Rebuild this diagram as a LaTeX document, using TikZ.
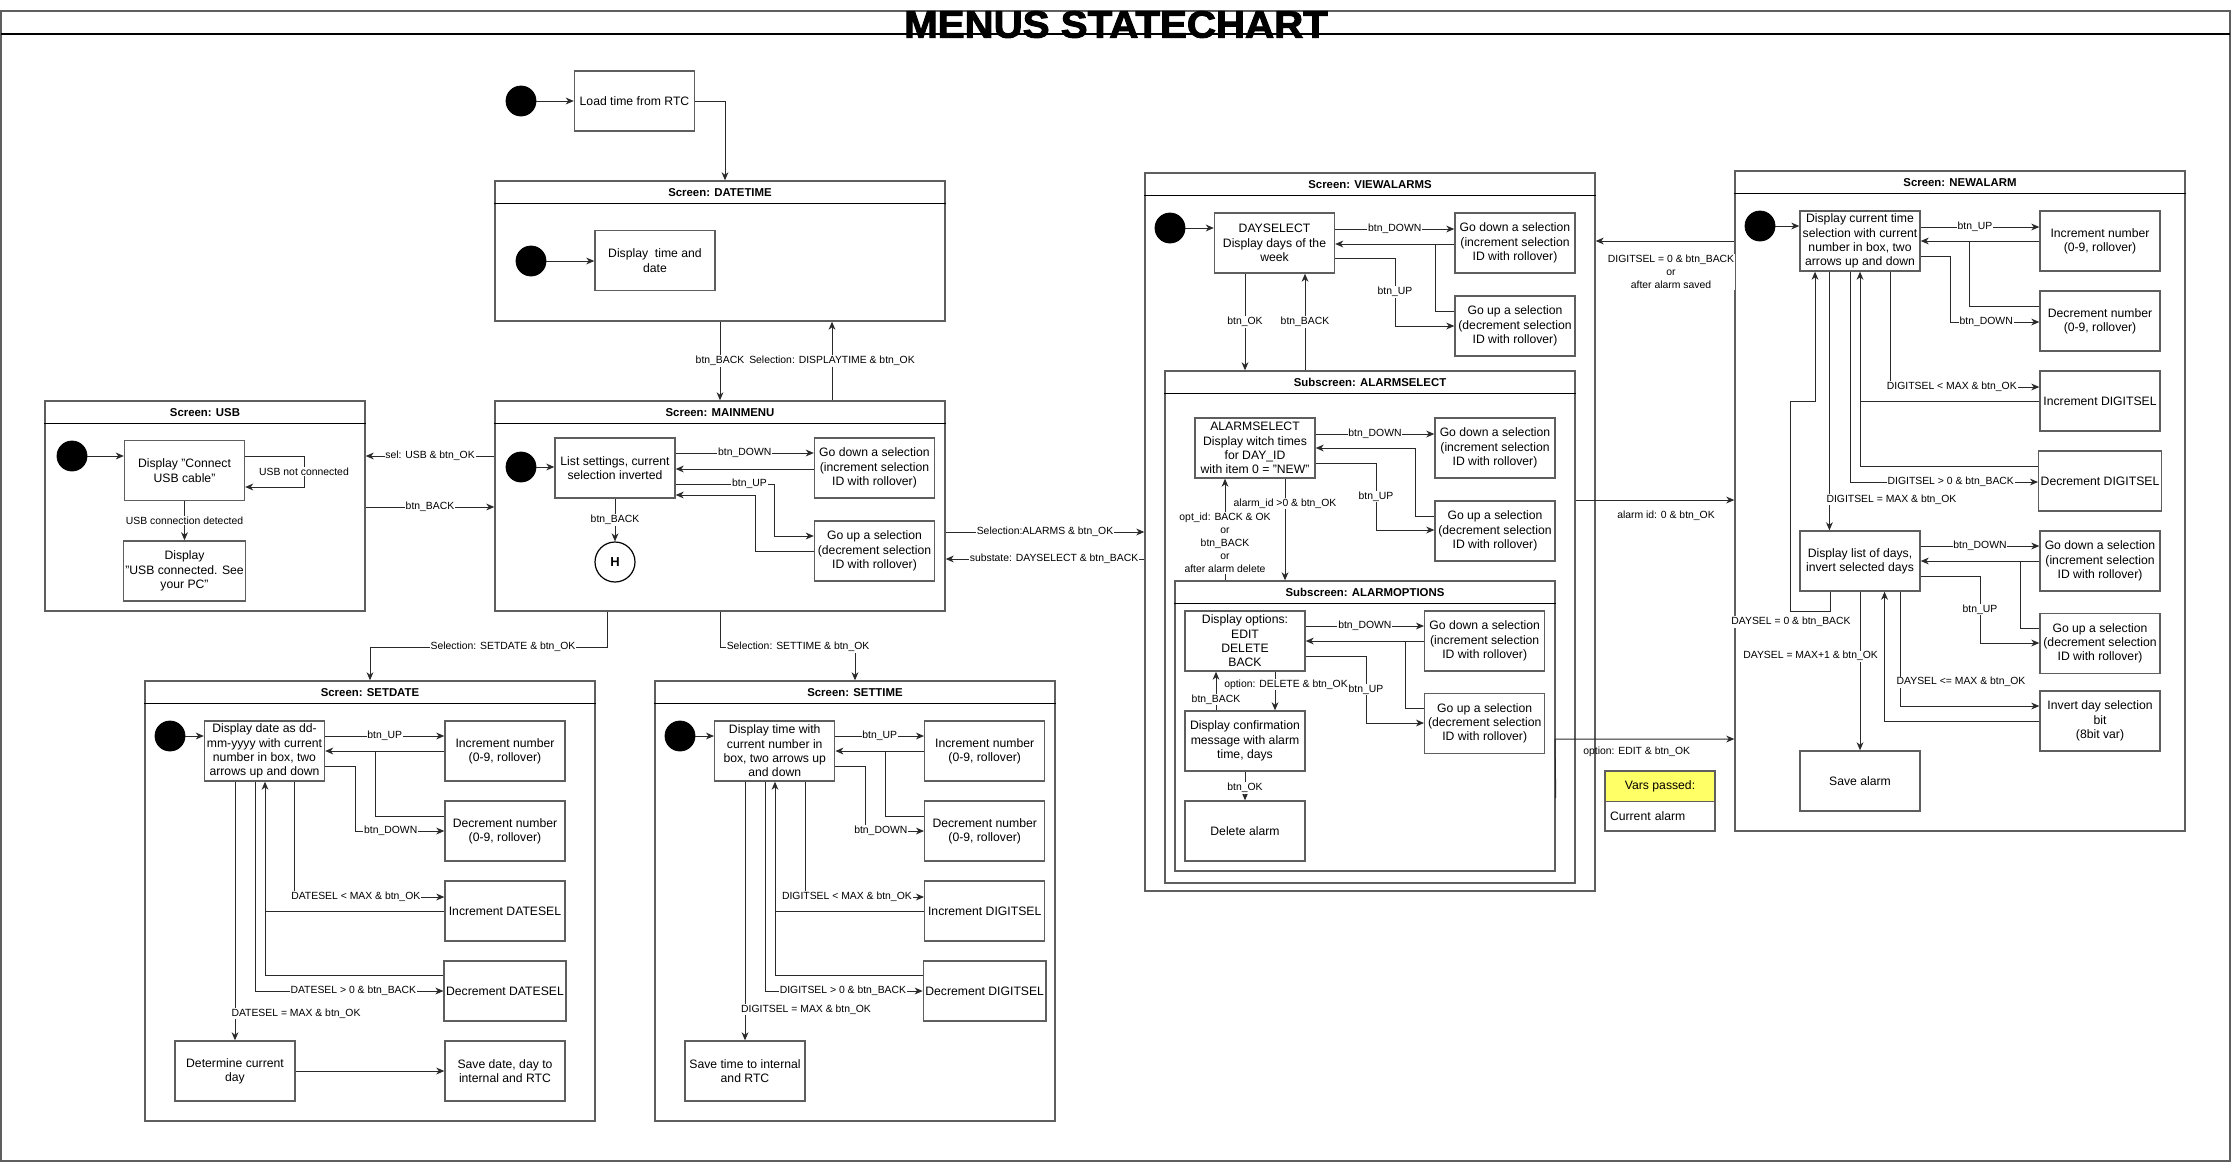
\documentclass[tikz,border=0pt]{standalone}
\usepackage{fontspec}
\setmainfont{Liberation Sans}
\newfontfamily\menutitlefont[FakeBold=2.5]{Liberation Sans Bold}
\usetikzlibrary{arrows.meta}
\usetikzlibrary{fit}
\definecolor{boxgray}{HTML}{5E5E5E}
\definecolor{linegray}{HTML}{2A2A2A}
\definecolor{varsyellow}{HTML}{FFFF66}

\begin{document}
\begin{tikzpicture}[x=0.5pt,y=-0.5pt,
  box/.style={draw=boxgray, line width=0.7pt, minimum width=60pt, minimum height=30pt, align=center, inner sep=1pt, font=\fontsize{6.1}{7.15}\selectfont},
  frame/.style={draw=boxgray, line width=0.7pt, inner sep=0pt},
  hdrline/.style={draw=black, line width=0.5pt},
  hdr/.style={font=\fontsize{5.7}{6.8}\selectfont\bfseries},
  lbl/.style={fill=white, inner sep=0.4pt, align=center, font=\fontsize{5.2}{6.6}\selectfont},
  init/.style={circle, fill=black, draw=black, minimum size=15pt, inner sep=0pt},
  arr/.style={draw=linegray, line width=0.5pt, -{Stealth[length=4pt,width=3.4pt,inset=1.2pt]}},
  conn/.style={draw=linegray, line width=0.5pt}]
  \useasboundingbox (0,0) rectangle (2231,1162);
  \draw[boxgray, line width=0.9pt] (1,11) rectangle (2230,1161);
  \draw[black, line width=0.6pt] (1,34) -- (2230,34);
  \node[font=\fontsize{19}{20}\selectfont\menutitlefont, inner sep=0pt, xscale=1.06] (title) at (1116,24.5) {MENUS STATECHART};

  % start
  \node[init] (init0) at (521,101) {};
  \node[box] (load) at (634.5,101) {Load time from RTC};
  \draw[arr] (init0) -- (load);

  % DATETIME
  \node[frame, fit={(495,181) (945,321)}] (datetime) {};
  \draw[hdrline] ([yshift=-11.5pt]datetime.north west) -- ([yshift=-11.5pt]datetime.north east);
  \node[hdr] (datetimet) at ([yshift=-6pt]datetime.north) {Screen: DATETIME};
  \draw[arr] (load.east) -| (datetime.north -| 725,0);
  \node[init] (init1) at (531,261) {};
  \node[box] (dtshow) at (655,260.5) {Display\ \ time and\\date};
  \draw[arr] (init1) -- (dtshow.west |- init1);

  % MAINMENU
  \node[frame, fit={(495,401) (945,611)}] (mainmenu) {};
  \draw[hdrline] ([yshift=-11.5pt]mainmenu.north west) -- ([yshift=-11.5pt]mainmenu.north east);
  \node[hdr] (mainmenut) at ([yshift=-6pt]mainmenu.north) {Screen: MAINMENU};
  \draw[arr] (datetime.south) -- node[lbl] (lmback) {btn\_BACK} (mainmenu.north);
  \draw[arr] (mainmenu.north -| 832,0) -- node[lbl] (lmdisp) {Selection: DISPLAYTIME \& btn\_OK} (datetime.south -| 832,0);
  \node[init] (init2) at (521,467) {};
  \node[box] (list) at (615,468) {List settings, current\\selection inverted};
  \node[box] (mdown) at (874.5,468) {Go down a selection\\(increment selection\\ID with rollover)};
  \node[box] (mup) at (874.5,551) {Go up a selection\\(decrement selection\\ID with rollover)};
  \node[circle, draw=black, line width=0.6pt, minimum size=20pt, inner sep=0pt, font=\fontsize{6.5}{7}\selectfont\bfseries] (hist) at (615,562) {H};
  \draw[arr] (init2) -- (list.west |- init2);
  \draw[arr] (list.east |- 0,453) -- node[lbl] (lmdown) {btn\_DOWN} (mdown.west |- 0,453);
  \draw[arr] (mdown.west |- 0,469) -- (list.east |- 0,469);
  \draw[arr] (list.east |- 0,484) -- node[lbl,pos=0.75] (lmup) {btn\_UP} (774,484) |- (mup.west |- 0,536);
  \draw[arr] (mup.west |- 0,551) -| (755,495) -- (list.east |- 0,495);
  \draw[arr] (list.south) -- node[lbl] (lmhist) {btn\_BACK} (hist.north);

  % USB
  \node[frame, fit={(45,401) (365,611)}] (usb) {};
  \draw[hdrline] ([yshift=-11.5pt]usb.north west) -- ([yshift=-11.5pt]usb.north east);
  \node[hdr] (usbt) at ([yshift=-6pt]usb.north) {Screen: USB};
  \node[init] (init3) at (72,456) {};
  \node[box] (usbc) at (184.5,470.5) {Display "Connect\\USB cable"};
  \node[box] (usbok) at (184.5,571) {Display\\"USB connected. See\\your PC"};
  \draw[arr] (init3) -- (usbc.west |- init3);
  \draw[arr] (usbc.east |- 0,456) -- (304,456) -- node[lbl] (lusbno) {USB not connected} (304,487) -- (usbc.east |- 0,487);
  \draw[arr] (usbc.south) -- node[lbl] (lusbyes) {USB connection detected} (usbok.north);
  \draw[arr] (mainmenu.west |- 0,456) -- node[lbl] (lsel) {sel: USB \& btn\_OK} (usb.east |- 0,456);
  \draw[arr] (usb.east |- 0,507) -- node[lbl] (lusbback) {btn\_BACK} (mainmenu.west |- 0,507);

  % SETDATE
  \node[frame, fit={(145,681) (595,1121)}] (setdate) {};
  \draw[hdrline] ([yshift=-11.5pt]setdate.north west) -- ([yshift=-11.5pt]setdate.north east);
  \node[hdr] (setdatet) at ([yshift=-6pt]setdate.north) {Screen: SETDATE};
  \draw[arr] (mainmenu.south -| 607.5,0) |- node[lbl,pos=0.72] (lsetdate) {Selection: SETDATE \& btn\_OK} (setdate.north |- 0,647) -- (setdate.north);
  \node[init] (init4) at (170,736) {};
  \node[box] (sd) at (264.5,751) {Display date as dd-\\mm-yyyy with current\\number in box, two\\arrows up and down};
  \node[box] (sdinc) at (505,751) {Increment number\\(0-9, rollover)};
  \node[box] (sddec) at (505,831) {Decrement number\\(0-9, rollover)};
  \node[box] (sdsinc) at (505,911) {Increment DATESEL};
  \node[box] (sdsdec) at (505,991) {Decrement DATESEL};
  \node[box] (sddet) at (235,1071) {Determine current\\day};
  \node[box] (sdsave) at (505,1071) {Save date, day to\\internal and RTC};
  \draw[arr] (init4) -- (sd.west |- init4);
  \draw[arr] (sd.east |- 0,736) -- node[lbl] (lsdup) {btn\_UP} (sdinc.west |- 0,736);
  \draw[arr] (sdinc.west |- 0,751) -- (sd.east |- 0,751);
  \draw[conn] (sddec.west |- 0,816) -| (375,751);
  \draw[arr] (sd.east |- 0,766) -| (355,831) -- node[lbl,pos=0.4] (lsddown) {btn\_DOWN} (sddec.west |- 0,831);
  \draw[arr] (sd.south -| 294.3,0) |- node[lbl,pos=0.705] (lsdsinc) {DATESEL < MAX \& btn\_OK} (sdsinc.west |- 0,897);
  \draw[arr] (sdsinc.west |- 0,911) -| (sd.south -| 265,0);
  \draw[conn] (sdsdec.west |- 0,975) -| (265,911);
  \draw[arr] (sd.south -| 255.7,0) |- node[lbl,pos=0.76] (lsdsdec) {DATESEL > 0 \& btn\_BACK} (sdsdec.west |- 0,991);
  \draw[arr] (sd.south -| 235,0) -- node[lbl,pos=0.896,xshift=30.5pt] (lsddet) {DATESEL = MAX \& btn\_OK} (sddet.north);
  \draw[arr] (sddet.east) -- (sdsave.west);

  % SETTIME
  \node[frame, fit={(655,681) (1055,1121)}] (settime) {};
  \draw[hdrline] ([yshift=-11.5pt]settime.north west) -- ([yshift=-11.5pt]settime.north east);
  \node[hdr] (settimet) at ([yshift=-6pt]settime.north) {Screen: SETTIME};
  \draw[arr] (mainmenu.south -| 720,0) |- node[lbl,pos=0.789] (lsettime) {Selection: SETTIME \& btn\_OK} (settime.north |- 0,647) -- (settime.north);
  \node[init] (init5) at (680,736) {};
  \node[box] (st) at (774.7,751) {Display time with\\current number in\\box, two arrows up\\and down};
  \node[box] (stinc) at (984.7,751) {Increment number\\(0-9, rollover)};
  \node[box] (stdec) at (984.7,831) {Decrement number\\(0-9, rollover)};
  \node[box] (stsinc) at (984.7,911) {Increment DIGITSEL};
  \node[box] (stsdec) at (984.7,991) {Decrement DIGITSEL};
  \node[box] (stsave) at (745,1071) {Save time to internal\\and RTC};
  \draw[arr] (init5) -- (st.west |- init5);
  \draw[arr] (st.east |- 0,736) -- node[lbl] (lstup) {btn\_UP} (stinc.west |- 0,736);
  \draw[arr] (stinc.west |- 0,751) -- (st.east |- 0,751);
  \draw[conn] (stdec.west |- 0,816) -| (885,751);
  \draw[arr] (st.east |- 0,766) -| (865.7,831) -- node[lbl,pos=0.26] (lstdown) {btn\_DOWN} (stdec.west |- 0,831);
  \draw[arr] (st.south -| 805,0) |- node[lbl,pos=0.676] (lstsinc) {DIGITSEL < MAX \& btn\_OK} (stsinc.west |- 0,897);
  \draw[arr] (stsinc.west |- 0,911) -| (st.south -| 775,0);
  \draw[conn] (stsdec.west |- 0,975) -| (775,911);
  \draw[arr] (st.south -| 765.7,0) |- node[lbl,pos=0.746] (lstsdec) {DIGITSEL > 0 \& btn\_BACK} (stsdec.west |- 0,991);
  \draw[arr] (st.south -| 745,0) -- node[lbl,pos=0.88,xshift=30.5pt] (lstsave) {DIGITSEL = MAX \& btn\_OK} (stsave.north);

  % VIEWALARMS
  \node[frame, fit={(1145,173) (1595,891)}] (viewalarms) {};
  \draw[hdrline] ([yshift=-11.5pt]viewalarms.north west) -- ([yshift=-11.5pt]viewalarms.north east);
  \node[hdr] (viewalarmst) at ([yshift=-6pt]viewalarms.north) {Screen: VIEWALARMS};
  \draw[arr] (mainmenu.east |- 0,532) -- node[lbl] (lalarms) {Selection:ALARMS \& btn\_OK} (viewalarms.west |- 0,532);
  \draw[arr] (viewalarms.west |- 0,559) -- node[lbl,xshift=4.5pt] (lsubst) {substate: DAYSELECT \& btn\_BACK} (mainmenu.east |- 0,559);
  \node[init] (init6) at (1170,228) {};
  \node[box] (day) at (1274.5,243) {DAYSELECT\\Display days of the\\week};
  \node[box] (vdown) at (1515,243) {Go down a selection\\(increment selection\\ID with rollover)};
  \node[box] (vup) at (1515,326) {Go up a selection\\(decrement selection\\ID with rollover)};
  \draw[arr] (init6) -- (day.west |- init6);
  \draw[arr] (day.east |- 0,229) -- node[lbl] (lvdown) {btn\_DOWN} (vdown.west |- 0,229);
  \draw[arr] (vdown.west |- 0,244) -- (day.east |- 0,244);
  \draw[conn] (vup.west |- 0,311) -| (1435,244);
  \draw[arr] (day.east |- 0,258) -| node[lbl,pos=0.75] (lvup) {btn\_UP} (1395,326) -- (vup.west |- 0,326);

  % ALARMSELECT
  \node[frame, fit={(1165,371) (1575,883)}] (alarmselect) {};
  \draw[hdrline] ([yshift=-11.5pt]alarmselect.north west) -- ([yshift=-11.5pt]alarmselect.north east);
  \node[hdr] (alarmselectt) at ([yshift=-6pt]alarmselect.north) {Subscreen: ALARMSELECT};
  \draw[arr] (day.south -| 1245,0) -- node[lbl] (lvok) {btn\_OK} (alarmselect.north -| 1245,0);
  \draw[arr] (alarmselect.north -| 1305,0) -- node[lbl] (lvback) {btn\_BACK} (day.south -| 1305,0);
  \node[box] (asel) at (1255,448) {ALARMSELECT\\Display witch times\\for DAY\_ID\\with item 0 = "NEW"};
  \node[box] (adown) at (1495,448) {Go down a selection\\(increment selection\\ID with rollover)};
  \node[box] (aup) at (1495,531) {Go up a selection\\(decrement selection\\ID with rollover)};
  \draw[arr] (asel.east |- 0,434) -- node[lbl] (ladown) {btn\_DOWN} (adown.west |- 0,434);
  \draw[arr] (aup.west |- 0,516) -| (1415,448) -- (asel.east |- 0,448);
  \draw[arr] (asel.east |- 0,463) -| node[lbl,pos=0.75] (laup) {btn\_UP} (1376,530) -- (aup.west |- 0,530);

  % ALARMOPTIONS
  \node[frame, fit={(1175,581) (1555,871)}] (alarmoptions) {};
  \draw[hdrline] ([yshift=-11.5pt]alarmoptions.north west) -- ([yshift=-11.5pt]alarmoptions.north east);
  \node[hdr] (alarmoptionst) at ([yshift=-6pt]alarmoptions.north) {Subscreen: ALARMOPTIONS};
  \draw[arr] (alarmoptions.north -| 1225,0) -- node[lbl,pos=0.37] (loptid) {opt\_id: BACK \& OK\\or\\btn\_BACK\\or\\after alarm delete} (asel.south -| 1225,0);
  \draw[arr] (asel.south -| 1285,0) -- node[lbl,pos=0.245] (laid) {alarm\_id >0 \& btn\_OK} (alarmoptions.north -| 1285,0);
  \node[box] (opt) at (1245,641) {Display options:\\EDIT\\DELETE\\BACK};
  \node[box] (odown) at (1484.7,641) {Go down a selection\\(increment selection\\ID with rollover)};
  \node[box] (oup) at (1484.7,723.3) {Go up a selection\\(decrement selection\\ID with rollover)};
  \node[box] (conf) at (1245,741) {Display confirmation\\message with alarm\\time, days};
  \node[box] (del) at (1245,831) {Delete alarm};
  \draw[arr] (opt.east |- 0,626) -- node[lbl] (lodown) {btn\_DOWN} (odown.west |- 0,626);
  \draw[arr] (odown.west |- 0,641) -- (opt.east |- 0,641);
  \draw[conn] (oup.west |- 0,708) -| (1405,641);
  \draw[arr] (opt.east |- 0,656) -| node[lbl,pos=0.75] (loup) {btn\_UP} (1366,723) -- (oup.west |- 0,723);
  \draw[arr] (opt.south -| 1275,0) -- node[lbl,pos=0.33,xshift=5.5pt] (lodel) {option: DELETE \& btn\_OK} (conf.north -| 1275,0);
  \draw[arr] (conf.north -| 1216,0) -- node[lbl,pos=0.275] (loback) {btn\_BACK} (opt.south -| 1216,0);
  \draw[arr] (conf.south) -- node[lbl,pos=0.57] (look) {btn\_OK} (del.north);

  % NEWALARM
  \node[frame, fit={(1735,171) (2185,831)}] (newalarm) {};
  \draw[hdrline] ([yshift=-11.5pt]newalarm.north west) -- ([yshift=-11.5pt]newalarm.north east);
  \node[hdr] (newalarmt) at ([yshift=-6pt]newalarm.north) {Screen: NEWALARM};
  \draw[arr] (newalarm.west |- 0,241) -- node[lbl,xshift=3pt,yshift=-15.5pt] (lnback) {DIGITSEL = 0 \& btn\_BACK\\or\\after alarm saved} (viewalarms.east |- 0,241);
  \draw[arr] (alarmselect.east |- 0,500) -- node[lbl,xshift=5.5pt,yshift=-8pt] (lnew) {alarm id: 0 \& btn\_OK} (newalarm.west |- 0,500);
  \draw[arr] (alarmoptions.east |- 0,798) -- (1555,739) -- node[lbl,fill=none,xshift=-4pt,yshift=-6.5pt] (ledit) {option: EDIT \& btn\_OK} (newalarm.west |- 0,739);
  \node[init] (init7) at (1760,226) {};
  \node[box] (na) at (1860,241) {Display current time\\selection with current\\number in box, two\\arrows up and down};
  \node[box] (nainc) at (2100,241) {Increment number\\(0-9, rollover)};
  \node[box] (nadec) at (2100,321) {Decrement number\\(0-9, rollover)};
  \node[box] (nasinc) at (2100,401) {Increment DIGITSEL};
  \node[box] (nasdec) at (2100,481) {Decrement DIGITSEL};
  \node[box] (days) at (1860,561) {Display list of days,\\invert selected days};
  \node[box] (ddown) at (2100,561) {Go down a selection\\(increment selection\\ID with rollover)};
  \node[box] (dup) at (2100,643.3) {Go up a selection\\(decrement selection\\ID with rollover)};
  \node[box] (dinv) at (2100,721) {Invert day selection\\bit\\(8bit var)};
  \node[box] (dsave) at (1860,781) {Save alarm};
  \draw[arr] (init7) -- (na.west |- init7);
  \draw[arr] (na.east |- 0,227) -- node[lbl,xshift=-2.5pt] (lnup) {btn\_UP} (nainc.west |- 0,227);
  \draw[arr] (nainc.west |- 0,241) -- (na.east |- 0,241);
  \draw[conn] (nadec.west |- 0,306) -| (1969,241);
  \draw[arr] (na.east |- 0,256) -| (1950,322) -- node[lbl,pos=0.405] (lndown) {btn\_DOWN} (nadec.west |- 0,322);
  \draw[arr] (na.south -| 1890,0) |- node[lbl,pos=0.707] (lnsinc) {DIGITSEL < MAX \& btn\_OK} (nasinc.west |- 0,387);
  \draw[arr] (nasinc.west |- 0,401) -| (na.south -| 1860,0);
  \draw[conn] (nasdec.west |- 0,466) -| (1860,401);
  \draw[arr] (na.south -| 1850,0) |- node[lbl,pos=0.768] (lnsdec) {DIGITSEL > 0 \& btn\_BACK} (nasdec.west |- 0,482);
  \draw[arr] (na.south -| 1829.4,0) -- node[lbl,pos=0.88,xshift=31pt] (lndays) {DIGITSEL = MAX \& btn\_OK} (days.north -| 1829.4,0);
  \draw[arr] (days.south -| 1830,0) -- (1830,611) -- (1790,611) -- (1790,401) -- (1815,401) -- (na.south -| 1815,0);
  \node[lbl] (ldzero) at (1791,622) {DAYSEL = 0 \& btn\_BACK};
  \draw[arr] (days.east |- 0,546) -- node[lbl] (lddown) {btn\_DOWN} (ddown.west |- 0,546);
  \draw[arr] (ddown.west |- 0,561) -- (days.east |- 0,561);
  \draw[conn] (dup.west |- 0,628) -| (2020,561);
  \draw[arr] (days.east |- 0,576) -| node[lbl,pos=0.75] (ldup) {btn\_UP} (1980,643) -- (dup.west |- 0,643);
  \draw[arr] (days.south -| 1900,0) |- node[lbl,pos=0.396,xshift=30.5pt] (ldinv) {DAYSEL <= MAX \& btn\_OK} (dinv.west |- 0,706);
  \draw[arr] (dinv.west |- 0,721) -| (days.south -| 1884.5,0);
  \draw[arr] (days.south -| 1860,0) -- node[lbl,pos=0.406,xshift=-24.7pt] (ldsave) {DAYSEL = MAX+1 \& btn\_OK} (dsave.north);

  % vars passed
  \node[draw=boxgray, line width=0.7pt, fill=varsyellow, minimum width=55pt, minimum height=15.35pt, inner sep=1pt, font=\fontsize{6.1}{7.15}\selectfont] (varshead) at (1660,786.3) {Vars passed:};
  \node[draw=boxgray, line width=0.7pt, minimum width=55pt, minimum height=14.65pt, text width=50pt, inner xsep=2.5pt, inner ysep=1pt, align=left, font=\fontsize{6.1}{7.15}\selectfont] (varsbody) at (1660,816.4) {Current alarm};
\end{tikzpicture}
\end{document}
